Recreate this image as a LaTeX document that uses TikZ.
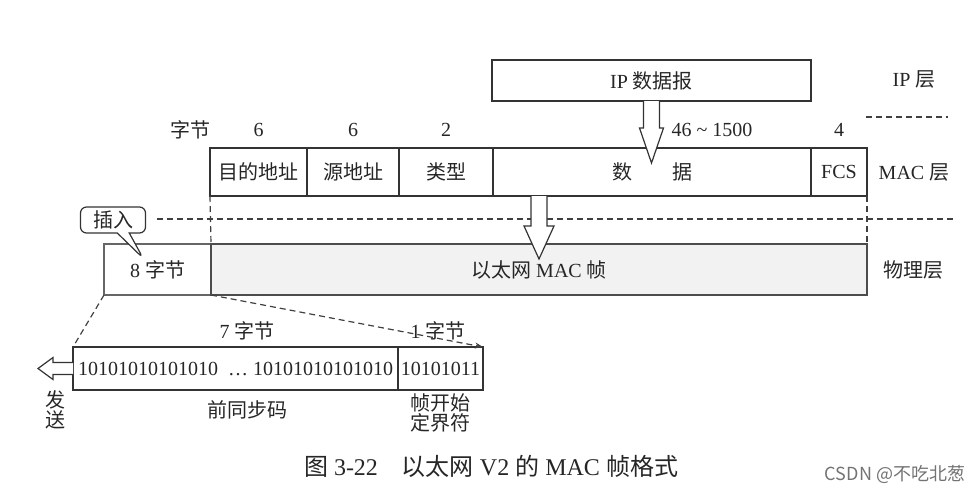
\documentclass[tikz,border=0pt]{standalone}
\usepackage{fontspec}
\setmainfont{Liberation Serif}
\newfontfamily\cjk{Noto Sans CJK SC}
\usetikzlibrary{arrows.meta, positioning, calc, shapes.callouts}
\newcommand{\zh}[1]{{\cjk #1}}

\begin{document}
\begin{tikzpicture}[x=0.5pt, y=-0.5pt, line width=0.6pt,
        field/.style={draw=black!80, minimum height=24pt, inner sep=0pt, outer sep=0pt, text=black!85},
        hollow/.style={draw=black!80, fill=white, line join=miter},
        sep/.style={draw=black!75, dash pattern=on 3pt off 2pt},
        lbl/.style={text=black!85}]
        \useasboundingbox (0,0) rectangle (979,494);

        % IP layer
        \node[field, minimum width=159.5pt, minimum height=20.5pt] (ip) at (651.5,80.5) {IP \zh{数据报}};
        \node[lbl] (iplayer) at (914,79) {IP \zh{层}};
        \coordinate (ipsepa) at (866,117);
        \coordinate (ipsepb) at (948,117);
        \draw[sep] (ipsepa) -- (ipsepb);

        % MAC frame fields
        \node[field, minimum width=48.5pt, anchor=west] (dst) at (210,172) {\zh{目的地址}};
        \node[field, minimum width=46pt, right=0pt of dst] (src) {\zh{源地址}};
        \node[field, minimum width=47pt, right=0pt of src] (type) {\zh{类型}};
        \node[field, minimum width=159pt, right=0pt of type] (data) {\zh{数}\hspace{2em}\zh{据}};
        \node[field, minimum width=28pt, right=0pt of data] (fcs) {FCS};
        \node[lbl] (maclayer) at (914,172) {MAC \zh{层}};

        % byte counts
        \node[lbl] (unit) at (190,130) {\zh{字节}};
        \node[lbl] (ndst) at (dst.north |- 0,130) {6};
        \node[lbl] (nsrc) at (src.north |- 0,130) {6};
        \node[lbl] (ntype) at (type.north |- 0,130) {2};
        \node[lbl] (ndata) at (712,130) {46 \textasciitilde\ 1500};
        \node[lbl] (nfcs) at (fcs.north |- 0,130) {4};

        % physical layer
        \coordinate (physepa) at (157,219);
        \coordinate (physepb) at (955,219);
        \draw[sep] (physepa) -- (physepb);
        \node[field, draw=black!60, minimum width=53.5pt, minimum height=25.5pt, anchor=west] (pre) at (104,269.5) {8 \zh{字节}};
        \node[field, draw=black!70, fill=black!5, minimum width=328pt, minimum height=25.5pt, right=0pt of pre] (frame) {\zh{以太网} MAC \zh{帧}};
        \node[lbl] (phylayer) at (913,270) {\zh{物理层}};
        \draw[sep] (dst.south west) -- (frame.north west);
        \draw[sep] (fcs.south east) -- (frame.north east);

        % insert callout
        \node[draw=black!80, fill=white, rectangle callout, rounded corners=3pt, minimum width=32.5pt, minimum height=13pt,
            inner sep=1pt, callout absolute pointer={(143,258)}, callout pointer width=6pt, text=black!85] (ins) at (113,220) {\zh{插入}};

        % hollow arrows
        \draw[hollow] ($(ip.south)+(-8,0)$) -- ++(0,27) -- ++(-4,0) -- ++(12,35) -- ++(12,-35) -- ++(-4,0) -- ++(0,-27);
        \coordinate (down) at (frame.north |- data.south);
        \draw[hollow] ($(down)+(-8,0)$) -- ++(0,30) -- ++(-7,0) -- ++(15,33) -- ++(15,-33) -- ++(-7,0) -- ++(0,-30);

        % preamble detail
        \node[field, minimum width=162.5pt, minimum height=21.5pt, anchor=west] (bits) at (73,368.5) {10101010101010\ \ \dots\ 10101010101010};
        \node[field, minimum width=42.5pt, minimum height=21.5pt, right=0pt of bits] (sfd) {10101011};
        \draw[sep] (pre.south west) -- (bits.north west);
        \draw[sep, -{Stealth[length=4pt, width=3pt]}] (frame.south west) -- (sfd.north east);
        \node[lbl] (seven) at (247,331) {7 \zh{字节}};
        \node[lbl] (one) at (438,331) {1 \zh{字节}};
        \node[lbl] (prename) at (247,410) {\zh{前同步码}};
        \node[lbl, align=center, inner sep=0pt] (sfdname) at (440,413) {\zh{帧开始}\\[-2pt]\zh{定界符}};

        % send arrow
        \draw[hollow] ($(bits.west)+(0,-6)$) -- ++(-20,0) -- ++(0,-5) -- ++(-15,11) -- ++(15,11) -- ++(0,-5) -- ++(20,0);
        \node[lbl, align=center, inner sep=0pt] (send) at (56,410) {\zh{发}\\[-2pt]\zh{送}};

        % caption
        \node[lbl, font=\large] (cap) at (491,466) {\zh{图} 3-22\quad \zh{以太网} V2 \zh{的} MAC \zh{帧格式}};
        \node[text=black!55, font=\cjk\small] (wm) at (895,474) {CSDN @不吃北葱};
    \end{tikzpicture}
\end{document}
